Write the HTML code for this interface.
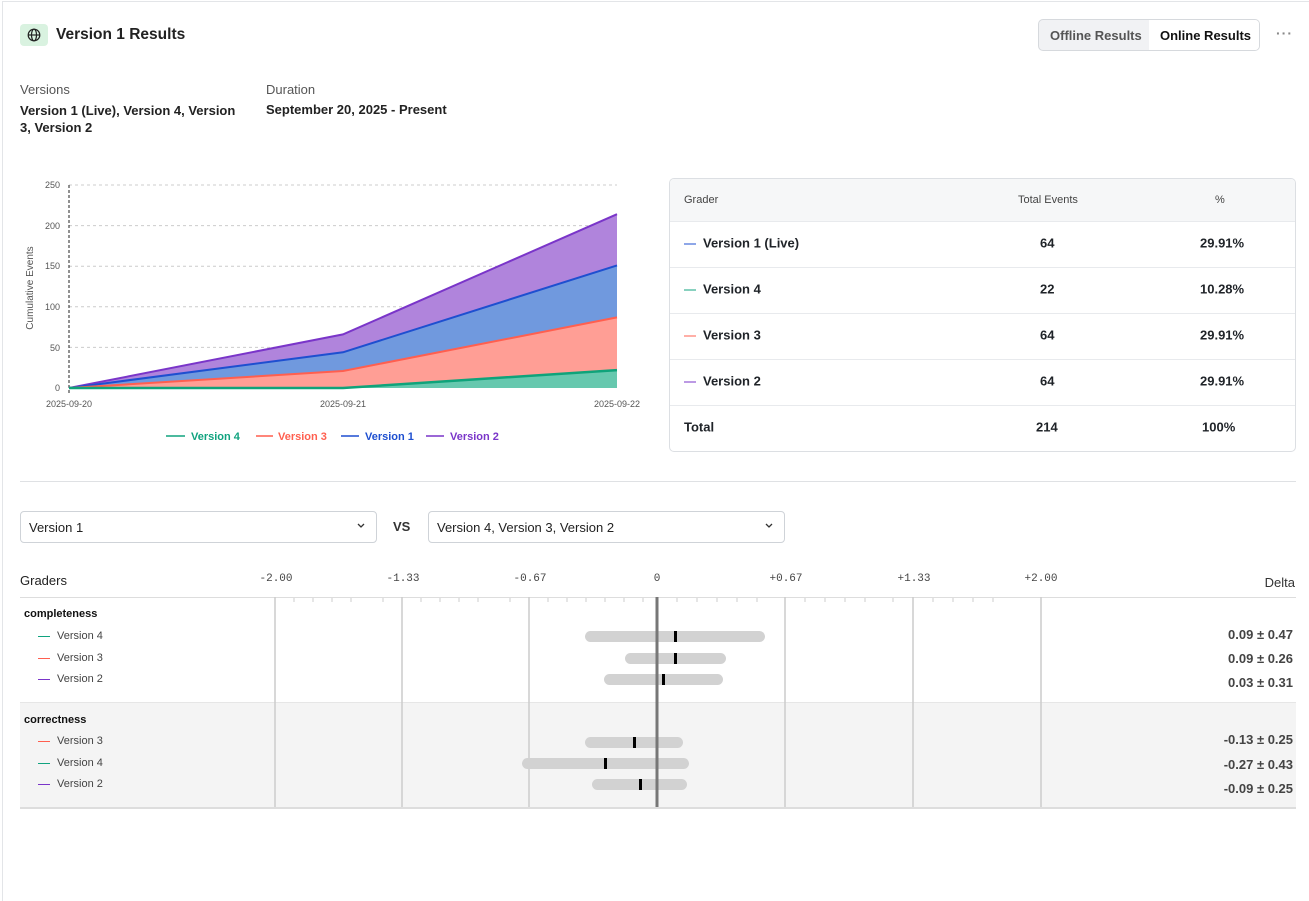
<!DOCTYPE html>
<html><head><meta charset="utf-8"><style>
*{box-sizing:border-box;margin:0;padding:0}
body{width:1309px;height:879px;background:#fff;font-family:"Liberation Sans",sans-serif;color:#1f2328;position:relative;overflow:hidden}
.a{position:absolute}
.frame{left:2px;top:1px;width:1320px;height:900px;border-left:1px solid #e3e5e8;border-top:1px solid #e3e5e8}
.lbl{font-size:13px;color:#555}
.b{font-size:13px;font-weight:bold;color:#222}
.tb{left:669px;top:178px;width:627px;height:274px;border:1px solid #dcdfe3;border-radius:5px;overflow:hidden}
.row{position:absolute;left:0;width:100%;border-top:1px solid #e8eaed;font-size:13px;font-weight:bold}
.row span{position:absolute;top:calc(50% - 2px);transform:translateY(-50%)}
.dd{height:32px;border:1px solid #cfd3d8;border-radius:4px;font-size:13px;padding:8px 8px;color:#222}
.fl{font-size:11px;color:#444;font-family:"Liberation Mono",monospace;transform:translateX(-50%)}
.vl{font-size:11px;color:#444}
.dash{display:inline-block;width:12px;height:1px;vertical-align:middle;margin-right:7px}
.dv{font-size:13px;font-weight:bold;color:#444;right:16px}
</style></head><body>
<div class="a frame"></div>
<div class="a" style="left:20px;top:24px;width:28px;height:22px;background:#d9f2e0;border-radius:4px"></div>
<svg class="a" style="left:27px;top:28px" width="14" height="14" viewBox="0 0 14 14" fill="none" stroke="#222" stroke-width="1.2"><circle cx="7" cy="7" r="5.8"/><ellipse cx="7" cy="7" rx="2.5" ry="5.8"/><line x1="1.2" y1="7" x2="12.8" y2="7"/></svg>
<div class="a" style="left:56px;top:26px;font-size:15.5px;font-weight:bold;color:#222">Version 1 Results</div>
<div class="a" style="left:1038px;top:19px;width:222px;height:32px;border:1px solid #d6d9dd;border-radius:5px;background:#f1f2f4"></div>
<div class="a" style="left:1149px;top:20px;width:110px;height:30px;background:#fff;border-radius:0 4px 4px 0"></div>
<div class="a" style="left:1050px;top:28px;font-size:13px;font-weight:bold;color:#555">Offline Results</div>
<div class="a" style="left:1160px;top:28px;font-size:13px;font-weight:bold;color:#111">Online Results</div>
<div class="a" style="left:1276px;top:25px;font-size:14px;color:#888;letter-spacing:1px;font-weight:bold">···</div>
<div class="a lbl" style="left:20px;top:82px">Versions</div>
<div class="a b" style="left:20px;top:102px;width:225px;line-height:17px">Version 1 (Live), Version 4, Version 3, Version 2</div>
<div class="a lbl" style="left:266px;top:82px">Duration</div>
<div class="a b" style="left:266px;top:102px">September 20, 2025 - Present</div>

<svg class="a" style="left:0;top:170px" width="660" height="290">
<g font-family="Liberation Sans" font-size="9" fill="#555">
<g stroke="#ccc" stroke-dasharray="3,3"><line x1="69" y1="15" x2="617" y2="15"/><line x1="69" y1="55.6" x2="617" y2="55.6"/><line x1="69" y1="96.2" x2="617" y2="96.2"/><line x1="69" y1="136.8" x2="617" y2="136.8"/><line x1="69" y1="177.4" x2="617" y2="177.4"/></g>
<line x1="69" y1="15" x2="69" y2="224" stroke="#222" stroke-dasharray="3,2"/>
<g text-anchor="end"><text x="60" y="18">250</text><text x="60" y="59">200</text><text x="60" y="99">150</text><text x="60" y="140">100</text><text x="60" y="181">50</text><text x="60" y="221">0</text></g>
<text transform="translate(33,118) rotate(-90)" text-anchor="middle" font-size="10">Cumulative Events</text>
<polygon points="69,218 343,164.4 617,44.2 617,95.4 343,182.3 69,218" fill="#b084dc"/>
<polygon points="69,218 343,182.3 617,95.4 617,147.4 343,201 69,218" fill="#7099de"/>
<polygon points="69,218 343,201 617,147.4 617,200.1 343,218 69,218" fill="#ff9e95"/>
<polygon points="69,218 343,218 617,200.1 617,218" fill="#66c8ae"/>
<polyline points="69,218 343,164.4 617,44.2" fill="none" stroke="#7a35c9" stroke-width="2"/>
<polyline points="69,218 343,182.3 617,95.4" fill="none" stroke="#1e4fd0" stroke-width="2"/>
<polyline points="69,218 343,201 617,147.4" fill="none" stroke="#ff5f4f" stroke-width="2"/>
<polyline points="69,218 343,218 617,200.1" fill="none" stroke="#0fa37a" stroke-width="2.5"/>
<g text-anchor="middle"><text x="69" y="237">2025-09-20</text><text x="343" y="237">2025-09-21</text><text x="617" y="237">2025-09-22</text></g>
<g font-size="11" font-weight="bold">
<line x1="166" y1="266" x2="185" y2="266" stroke="#10a37f" stroke-width="1.5"/><text x="191" y="270" fill="#10a37f">Version 4</text>
<line x1="256" y1="266" x2="273" y2="266" stroke="#ff5f4f" stroke-width="1.5"/><text x="278" y="270" fill="#ff5f4f">Version 3</text>
<line x1="341" y1="266" x2="359" y2="266" stroke="#1e4fd0" stroke-width="1.5"/><text x="365" y="270" fill="#1e4fd0">Version 1</text>
<line x1="426" y1="266" x2="444" y2="266" stroke="#7a35c9" stroke-width="1.5"/><text x="450" y="270" fill="#7a35c9">Version 2</text>
</g></g></svg>

<div class="a tb">
<div class="a" style="left:0;top:0;width:100%;height:43px;background:#f6f7f8"></div>
<div class="a" style="left:14px;top:15px;font-size:11px;color:#444">Grader</div>
<div class="a" style="left:380px;width:0;top:15px;font-size:11px;color:#444;white-space:nowrap;text-indent:-32px">Total Events</div>
<div class="a" style="left:545px;top:15px;font-size:11px;color:#444">%</div>
<div class="row" style="top:42px;height:46px"><span style="left:14px"><i class="dash" style="background:#1e4fd0"></i>Version 1 (Live)</span><span style="left:370px">64</span><span style="left:530px">29.91%</span></div>
<div class="row" style="top:88px;height:46px"><span style="left:14px"><i class="dash" style="background:#10a37f"></i>Version 4</span><span style="left:370px">22</span><span style="left:530px">10.28%</span></div>
<div class="row" style="top:134px;height:46px"><span style="left:14px"><i class="dash" style="background:#ff5f4f"></i>Version 3</span><span style="left:370px">64</span><span style="left:530px">29.91%</span></div>
<div class="row" style="top:180px;height:46px"><span style="left:14px"><i class="dash" style="background:#7a35c9"></i>Version 2</span><span style="left:370px">64</span><span style="left:530px">29.91%</span></div>
<div class="row" style="top:226px;height:46px"><span style="left:14px">Total</span><span style="left:366px">214</span><span style="left:532px">100%</span></div>
</div>

<div class="a" style="left:20px;top:481px;width:1276px;height:1px;background:#dfe1e4"></div>
<div class="a dd" style="left:20px;top:511px;width:357px">Version 1</div>
<div class="a dd" style="left:428px;top:511px;width:357px">Version 4, Version 3, Version 2</div>
<svg class="a" style="left:356px;top:522px" width="10" height="8"><polyline points="2,2 5,5 8,2" fill="none" stroke="#333" stroke-width="1.3"/></svg>
<svg class="a" style="left:764px;top:522px" width="10" height="8"><polyline points="2,2 5,5 8,2" fill="none" stroke="#333" stroke-width="1.3"/></svg>
<div class="a" style="left:393px;top:519px;font-size:13px;font-weight:bold;color:#333">VS</div>

<div class="a" style="left:20px;top:573px;font-size:13px;color:#222">Graders</div>
<div class="a" style="right:14px;top:575px;font-size:13px;color:#333">Delta</div>
<div class="a fl" style="left:276px;top:573px">-2.00</div>
<div class="a fl" style="left:403px;top:573px">-1.33</div>
<div class="a fl" style="left:530px;top:573px">-0.67</div>
<div class="a fl" style="left:657px;top:573px">0</div>
<div class="a fl" style="left:786px;top:573px">+0.67</div>
<div class="a fl" style="left:914px;top:573px">+1.33</div>
<div class="a fl" style="left:1041px;top:573px">+2.00</div>
<div class="a" style="left:20px;top:702px;width:1276px;height:105px;background:#f4f4f4;border-top:1px solid #e6e6e6"></div>
<div class="a" style="left:20px;top:597px;width:1276px;height:1px;background:#ddd"></div>
<div class="a" style="left:20px;top:807px;width:1276px;height:2px;background:#ddd"></div>
<svg class="a" style="left:0;top:597px" width="1309" height="212">
<g stroke="#ccc" stroke-width="1.5"><line x1="275" y1="0" x2="275" y2="210"/><line x1="402" y1="0" x2="402" y2="210"/><line x1="529" y1="0" x2="529" y2="210"/><line x1="785" y1="0" x2="785" y2="210"/><line x1="913" y1="0" x2="913" y2="210"/><line x1="1041" y1="0" x2="1041" y2="210"/></g>
<g stroke="#ccc" stroke-width="1">
<line x1="294" y1="1" x2="294" y2="5"/><line x1="313" y1="1" x2="313" y2="5"/><line x1="332" y1="1" x2="332" y2="5"/><line x1="351" y1="1" x2="351" y2="5"/><line x1="383" y1="1" x2="383" y2="5"/>
<line x1="421" y1="1" x2="421" y2="5"/><line x1="440" y1="1" x2="440" y2="5"/><line x1="459" y1="1" x2="459" y2="5"/><line x1="478" y1="1" x2="478" y2="5"/><line x1="510" y1="1" x2="510" y2="5"/>
<line x1="548" y1="1" x2="548" y2="5"/><line x1="567" y1="1" x2="567" y2="5"/><line x1="586" y1="1" x2="586" y2="5"/><line x1="605" y1="1" x2="605" y2="5"/><line x1="624" y1="1" x2="624" y2="5"/><line x1="643" y1="1" x2="643" y2="5"/>
<line x1="677" y1="1" x2="677" y2="5"/><line x1="697" y1="1" x2="697" y2="5"/><line x1="717" y1="1" x2="717" y2="5"/><line x1="737" y1="1" x2="737" y2="5"/><line x1="757" y1="1" x2="757" y2="5"/>
<line x1="805" y1="1" x2="805" y2="5"/><line x1="825" y1="1" x2="825" y2="5"/><line x1="845" y1="1" x2="845" y2="5"/><line x1="865" y1="1" x2="865" y2="5"/><line x1="893" y1="1" x2="893" y2="5"/>
<line x1="933" y1="1" x2="933" y2="5"/><line x1="953" y1="1" x2="953" y2="5"/><line x1="973" y1="1" x2="973" y2="5"/><line x1="993" y1="1" x2="993" y2="5"/>
</g>
<g fill="#d2d2d2">
<rect x="585" y="34" width="180" height="11" rx="5.5"/><rect x="625" y="56" width="101" height="11" rx="5.5"/><rect x="604" y="77" width="119" height="11" rx="5.5"/>
<rect x="585" y="140" width="98" height="11" rx="5.5"/><rect x="522" y="161" width="167" height="11" rx="5.5"/><rect x="592" y="182" width="95" height="11" rx="5.5"/>
</g>
<line x1="657" y1="0" x2="657" y2="210" stroke="#777" stroke-width="3"/>
<g fill="#000"><rect x="674" y="34" width="3" height="11"/><rect x="674" y="56" width="3" height="11"/><rect x="662" y="77" width="3" height="11"/><rect x="633" y="140" width="3" height="11"/><rect x="604" y="161" width="3" height="11"/><rect x="639" y="182" width="3" height="11"/></g>
</svg>
<div class="a" style="left:24px;top:608px;font-size:11px;font-weight:bold;color:#111">completeness</div>
<div class="a vl" style="left:38px;top:630px"><i class="dash" style="background:#10a37f"></i>Version 4</div>
<div class="a vl" style="left:38px;top:652px"><i class="dash" style="background:#ff5f4f"></i>Version 3</div>
<div class="a vl" style="left:38px;top:673px"><i class="dash" style="background:#7a35c9"></i>Version 2</div>
<div class="a" style="left:24px;top:714px;font-size:11px;font-weight:bold;color:#111">correctness</div>
<div class="a vl" style="left:38px;top:735px"><i class="dash" style="background:#ff5f4f"></i>Version 3</div>
<div class="a vl" style="left:38px;top:757px"><i class="dash" style="background:#10a37f"></i>Version 4</div>
<div class="a vl" style="left:38px;top:778px"><i class="dash" style="background:#7a35c9"></i>Version 2</div>
<div class="a dv" style="top:627px">0.09 ± 0.47</div>
<div class="a dv" style="top:651px">0.09 ± 0.26</div>
<div class="a dv" style="top:675px">0.03 ± 0.31</div>
<div class="a dv" style="top:732px">-0.13 ± 0.25</div>
<div class="a dv" style="top:757px">-0.27 ± 0.43</div>
<div class="a dv" style="top:781px">-0.09 ± 0.25</div>
</body></html>
